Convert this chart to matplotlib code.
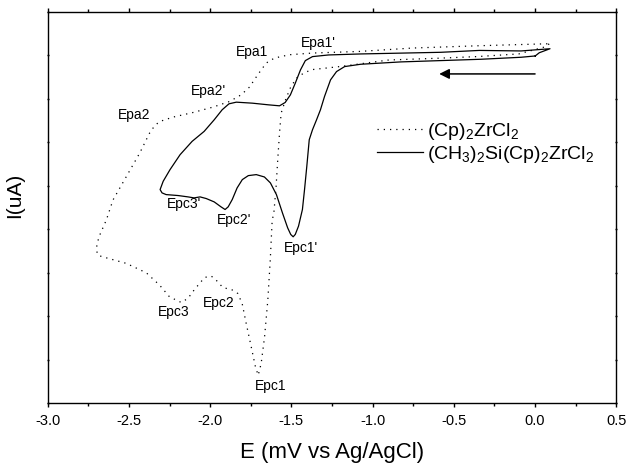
import matplotlib
matplotlib.use("Agg")
import matplotlib.pyplot as plt
from matplotlib.ticker import MultipleLocator, NullFormatter

plt.rcParams['font.family'] = ['Liberation Sans', 'DejaVu Sans']
plt.rcParams['mathtext.fontset'] = 'custom'
plt.rcParams['mathtext.rm'] = 'Liberation Sans'
plt.rcParams['mathtext.it'] = 'Liberation Sans'
plt.rcParams['mathtext.bf'] = 'Liberation Sans'
plt.rcParams['axes.unicode_minus'] = False

# (Cp)2ZrCl2 - dotted CV
E_cp = [0.087, 0.06, -0.10, -0.35, -0.60, -0.90, -1.08, -1.20, -1.37, -1.42, -1.47,
        -1.507, -1.536, -1.563, -1.573, -1.584, -1.594, -1.608, -1.618, -1.630, -1.645,
        -1.665, -1.686, -1.704, -1.721, -1.747, -1.778, -1.803, -1.830, -1.860, -1.922,
        -1.963, -1.993, -2.034, -2.096, -2.137, -2.178, -2.250, -2.311, -2.393, -2.516,
        -2.649, -2.690, -2.700, -2.697, -2.684, -2.639, -2.598, -2.516, -2.434, -2.373,
        -2.342, -2.311, -2.229, -2.106, -1.983, -1.881, -1.809, -1.758, -1.707, -1.655,
        -1.604, -1.512, -1.368, -1.081, -0.753, -0.343, 0.087]
I_cp = [8.26, 8.19, 8.03, 7.97, 7.93, 7.89, 7.80, 7.74, 7.67, 7.60, 7.47,
        7.244, 6.975, 6.669, 6.209, 5.594, 4.980, 4.367, 4.213, 3.292, 2.371,
        1.526, 0.914, 0.645, 0.836, 1.296, 1.835, 2.295, 2.525, 2.601, 2.663,
        2.831, 2.924, 2.893, 2.617, 2.410, 2.318, 2.447, 2.716, 3.000, 3.216,
        3.354, 3.40, 3.52, 3.637, 3.829, 4.213, 4.673, 5.210, 5.748, 6.209,
        6.377, 6.476, 6.577, 6.683, 6.807, 6.936, 7.090, 7.267, 7.551, 7.820,
        7.935, 8.011, 8.050, 8.087, 8.165, 8.218, 8.264]

# (CH3)2Si(Cp)2ZrCl2 - solid CV
E_si = [0.001, -0.086, -0.333, -0.827, -1.074, -1.172, -1.222, -1.259, -1.296, -1.321,
        -1.345, -1.370, -1.390, -1.405, -1.419, -1.432, -1.456, -1.476, -1.489, -1.504,
        -1.523, -1.555, -1.592, -1.629, -1.666, -1.716, -1.765, -1.802, -1.834, -1.864,
        -1.889, -1.908, -1.933, -1.975, -2.024, -2.062, -2.099, -2.136, -2.197, -2.271,
        -2.296, -2.308, -2.289, -2.247, -2.185, -2.111, -2.037, -1.975, -1.926, -1.884,
        -1.839, -1.740, -1.642, -1.573, -1.538, -1.506, -1.476, -1.444, -1.414, -1.370,
        -1.271, -1.074, -0.580, -0.343, -0.086, 0.092, 0.026, 0.001]
I_si = [7.983, 7.953, 7.907, 7.846, 7.792, 7.739, 7.624, 7.433, 7.051, 6.746,
        6.516, 6.287, 6.058, 5.447, 4.912, 4.454, 4.072, 3.881, 3.827, 3.881,
        4.034, 4.377, 4.797, 5.065, 5.202, 5.256, 5.233, 5.141, 4.950, 4.683,
        4.515, 4.454, 4.515, 4.629, 4.706, 4.744, 4.721, 4.744, 4.775, 4.797,
        4.836, 4.912, 5.103, 5.370, 5.714, 6.020, 6.249, 6.516, 6.746, 6.883,
        6.921, 6.898, 6.860, 6.837, 6.914, 7.089, 7.357, 7.662, 7.876, 7.968,
        8.006, 8.029, 8.067, 8.110, 8.098, 8.149, 8.057, 7.983]

peak_labels = ["Epa1", "Epa1'", "Epa2'", "Epa2", "Epc3'", "Epc2'", "Epc1'", "Epc3", "Epc2", "Epc1"]
label_E = [-1.74, -1.333, -2.012, -2.469, -2.160, -1.852, -1.444, -2.222, -1.950, -1.629]
label_I = [8.08, 8.29, 7.17, 6.63, 4.57, 4.22, 3.58, 2.09, 2.30, 0.40]

fig = plt.figure(figsize=(6.29, 4.68), dpi=100)
ax = fig.add_axes([0.0758, 0.1382, 0.9040, 0.8368])

ax.plot(E_cp, I_cp, color='black', lw=0.9, linestyle=(0, (1, 4)),
        label=r'(Cp)$_2$ZrCl$_2$')
ax.plot(E_si, I_si, color='black', lw=0.9, linestyle='-',
        label=r'(CH$_3$)$_2$Si(Cp)$_2$ZrCl$_2$')

for t, x, y in zip(peak_labels, label_E, label_I):
    ax.text(x, y, t, fontsize=10, ha='center', va='center')

# scan direction arrow
ax.annotate('', xy=(-0.59, 7.57), xytext=(0.0, 7.57),
            arrowprops=dict(arrowstyle='-|>', color='black', lw=1.1,
                            mutation_scale=15, shrinkA=0, shrinkB=0))

ax.set_xlim(-3.0, 0.5)
ax.set_ylim(0, 9)
ax.xaxis.set_major_locator(MultipleLocator(0.5))
ax.xaxis.set_minor_locator(MultipleLocator(0.25))
ax.yaxis.set_major_locator(MultipleLocator(1))
ax.yaxis.set_major_formatter(NullFormatter())
ax.tick_params(axis='x', which='major', direction='out', length=3, width=1,
               labelsize=10.5, top=True, bottom=True, pad=5)
ax.tick_params(axis='x', which='minor', direction='out', length=2, width=1,
               top=True, bottom=True)
ax.tick_params(axis='y', which='major', direction='inout', length=2, width=1,
               left=True, right=True)
for s in ax.spines.values():
    s.set_linewidth(1.0)

ax.set_xlabel('E (mV vs Ag/AgCl)', fontsize=16, labelpad=10)
ax.set_ylabel('I(uA)', fontsize=15)
ax.yaxis.set_label_coords(-0.042, 0.53)

leg = ax.legend(loc='upper left', bbox_to_anchor=(0.565, 0.74), frameon=False,
                fontsize=14, handlelength=2.4, handletextpad=0.2, labelspacing=0.1,
                borderaxespad=0)

fig.savefig('out.png', dpi=100)
